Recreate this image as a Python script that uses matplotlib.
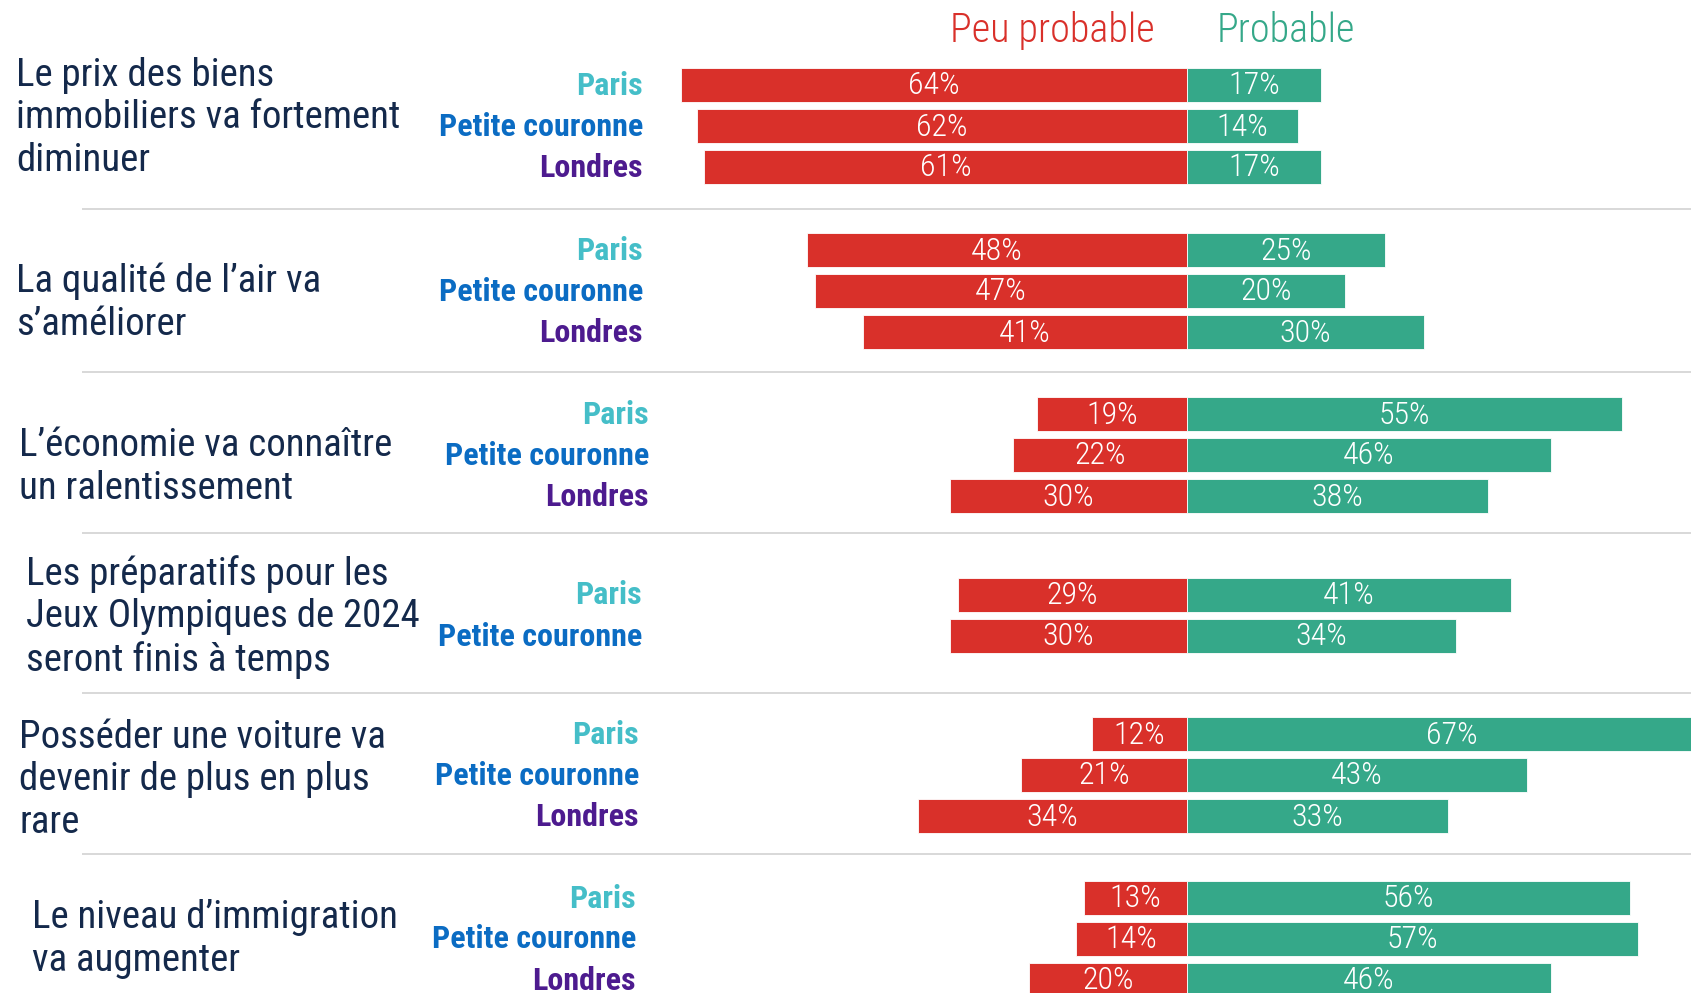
import numpy as np
import matplotlib.pyplot as plt
from matplotlib.transforms import blended_transform_factory

# Données
questions = [
    "Le prix des biens\nimmobiliers va fortement\ndiminuer",
    "La qualité de l’air va\ns’améliorer",
    "L’économie va connaître\nun ralentissement",
    "Les préparatifs pour les\nJeux Olympiques de 2024\nseront finis à temps",
    "Posséder une voiture va\ndevenir de plus en plus\nrare",
    "Le niveau d’immigration\nva augmenter",
]
zones = [
    ["Paris", "Petite couronne", "Londres"],
    ["Paris", "Petite couronne", "Londres"],
    ["Paris", "Petite couronne", "Londres"],
    ["Paris", "Petite couronne"],
    ["Paris", "Petite couronne", "Londres"],
    ["Paris", "Petite couronne", "Londres"],
]
peu_probable = [[64, 62, 61], [48, 47, 41], [19, 22, 30], [29, 30], [12, 21, 34], [13, 14, 20]]
probable = [[17, 14, 17], [25, 20, 30], [55, 46, 38], [41, 34], [67, 43, 33], [56, 57, 46]]

RED = "#D9302A"
GREEN = "#35A889"
NAVY = "#14294B"
zone_colors = {"Paris": "#45BEC8", "Petite couronne": "#0B6CC3", "Londres": "#4D1B8F"}

plt.rcParams["font.family"] = ["Roboto Condensed", "DejaVu Sans"]

W, H = 1691, 993
fig = plt.figure(figsize=(W / 100, H / 100), dpi=100)
ax = fig.add_axes([0, 0, 1, 1])
zero_px, px_per_pct = 1187, 7.91
ax.set_xlim(-zero_px / px_per_pct, (W - zero_px) / px_per_pct)
ax.set_ylim(H, 0)
ax.axis("off")

# x en fraction de figure, y en unités de l'axe
tr = blended_transform_factory(fig.transFigure, ax.transData)

# mise en page (pixels)
group_centers = [126, 291, 455, 615, 775, 938.5]
separators = [209, 372, 533, 693, 854]
row_pitch, bar_h = 41, 34
q_x = [16, 16, 19, 26, 19, 32]
q_y = [118, 303, 467, 617, 780, 939]
zone_x = [643, 643, 649, 642, 639, 636]

for g, q in enumerate(questions):
    n = len(zones[g])
    ys = group_centers[g] + (np.arange(n) - (n - 1) / 2) * row_pitch
    red = np.array(peu_probable[g])
    green = np.array(probable[g])
    ax.barh(ys, -red, height=bar_h, color=RED, edgecolor="white", linewidth=0.6)
    ax.barh(ys, green, height=bar_h, color=GREEN, edgecolor="white", linewidth=0.6)
    for y, r, gr, z in zip(ys, red, green, zones[g]):
        ax.text(-r / 2, y + 1, f"{r}%", color="white", fontsize=23,
                fontweight="light", ha="center", va="center")
        ax.text(gr / 2, y + 1, f"{gr}%", color="white", fontsize=23,
                fontweight="light", ha="center", va="center")
        ax.text(zone_x[g] / W, y + 1, z, transform=tr, color=zone_colors[z],
                fontsize=23, fontweight="bold", ha="right", va="center")
    ax.text(q_x[g] / W, q_y[g], q, transform=tr, color=NAVY,
            fontsize=28, ha="left", va="center", linespacing=1.2)

for sep in separators:
    ax.plot([83 / W, 1], [sep, sep], transform=tr, color="#D8D8D8",
            linewidth=1.4, clip_on=False)

ax.text(1052 / W, 31, "Peu probable", transform=tr, color=RED, fontsize=29,
        fontweight="light", ha="center", va="center")
ax.text(1286 / W, 31, "Probable", transform=tr, color=GREEN, fontsize=29,
        fontweight="light", ha="center", va="center")

fig.savefig("out.png", dpi=100)
